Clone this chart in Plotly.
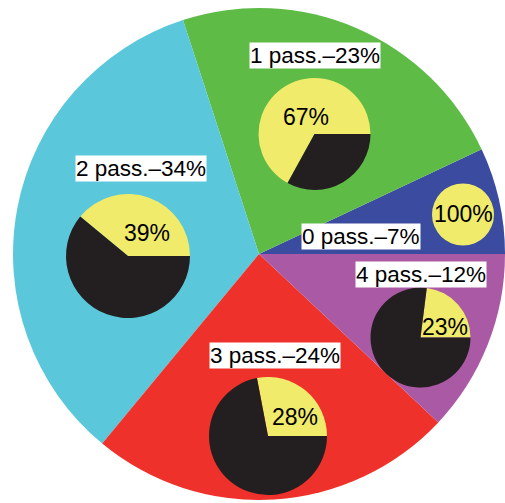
import plotly.graph_objects as go

# Data
categories = ["0 pass.", "1 pass.", "2 pass.", "3 pass.", "4 pass."]
shares = [7, 23, 34, 24, 12]              # % of big pie
yellow_pct = [100, 67, 39, 28, 23]        # % yellow in each inset pie

# Layout (pixels) - positions/styles only
W, H = 505, 503
big_center = (259, 254)
big_r = 246
big_colors = ["#3A4BA0", "#5DBB46", "#5AC8DA", "#EE312B", "#AA59A4"]
inset_centers = [(463, 214.5), (314.5, 134), (128, 256), (268, 436), (420.5, 337.5)]
inset_radii = [31, 56, 62, 59, 50]
label_pos = [(361, 236), (315, 56), (141, 168), (275, 355), (421, 274)]
pct_pos = [(463, 214), (306, 117), (147, 233), (294.5, 417), (444.5, 327)]
YELLOW, BLACK = "#F0EB6A", "#231F20"
FONT = "Liberation Sans, Arial, Helvetica"


def domain(cx, cy, r):
    return dict(x=[max(0, (cx - r) / W), min(1, (cx + r) / W)],
                y=[max(0, 1 - (cy + r) / H), min(1, 1 - (cy - r) / H)])


def start_rotation(values):
    # first slice should start at 3 o'clock and run counterclockwise
    return 90 - 360.0 * values[0] / sum(values)


fig = go.Figure()
fig.add_trace(go.Pie(
    labels=categories, values=shares, sort=False, direction="counterclockwise",
    rotation=start_rotation(shares), textinfo="none", hoverinfo="label+percent",
    marker=dict(colors=big_colors, line=dict(width=0)),
    domain=domain(*big_center, big_r), showlegend=False,
))

for i, cat in enumerate(categories):
    vals = [yellow_pct[i], 100 - yellow_pct[i]]
    fig.add_trace(go.Pie(
        labels=["yes", "no"], values=vals, sort=False,
        direction="counterclockwise", rotation=start_rotation(vals), textinfo="none",
        marker=dict(colors=[YELLOW, BLACK], line=dict(width=0)),
        domain=domain(*inset_centers[i], inset_radii[i]), showlegend=False,
    ))

annotations = []
for i, cat in enumerate(categories):
    lx, ly = label_pos[i]
    annotations.append(dict(
        x=lx / W, y=1 - ly / H, xref="paper", yref="paper", showarrow=False,
        xanchor="center", yanchor="middle",
        text=f"{cat}–{shares[i]}%", bgcolor="white", borderpad=0,
        font=dict(family=FONT, size=22.5, color="black"),
    ))
    px, py = pct_pos[i]
    annotations.append(dict(
        x=px / W, y=1 - py / H, xref="paper", yref="paper", showarrow=False,
        xanchor="center", yanchor="middle",
        text=f"{yellow_pct[i]}%",
        font=dict(family=FONT, size=23, color="black"),
    ))

fig.update_layout(
    width=W, height=H, margin=dict(l=0, r=0, t=0, b=0),
    paper_bgcolor="white", plot_bgcolor="white", annotations=annotations,
)
fig.write_html("out.html", config={"displayModeBar": False},
               post_script="document.body.style.margin='0';document.body.style.overflow='hidden';")
